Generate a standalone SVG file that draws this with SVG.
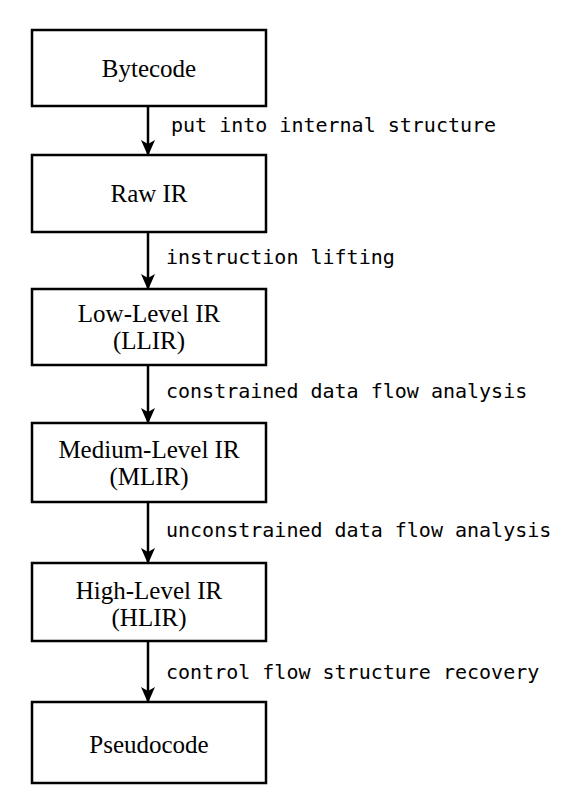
<svg xmlns="http://www.w3.org/2000/svg" width="585" height="807" viewBox="0 0 585 807">
<style>
.box{fill:#fff;stroke:#000;stroke-width:2.5}
.nt{font-family:"Liberation Serif","DejaVu Serif",serif;font-size:25px;text-anchor:middle;fill:#000}
.lt{font-family:"DejaVu Sans Mono","Liberation Mono",monospace;font-size:20px;fill:#000}
.ln{stroke:#000;stroke-width:2.5;fill:none}
</style>
<defs>
<marker id="ah" viewBox="0 0 16 14" refX="15" refY="7" markerWidth="16" markerHeight="14" markerUnits="userSpaceOnUse" orient="auto">
<path d="M0,0 L16,7 L0,14 L4,7 Z" fill="#000"/>
</marker>
</defs>
<g id="connectors">
<line class="ln" x1="148" y1="106" x2="148" y2="155" marker-end="url(#ah)"/>
<text class="lt" x="171" y="132">put into internal structure</text>
<line class="ln" x1="148" y1="232" x2="148" y2="289" marker-end="url(#ah)"/>
<text class="lt" x="166" y="264">instruction lifting</text>
<line class="ln" x1="148" y1="365" x2="148" y2="423" marker-end="url(#ah)"/>
<text class="lt" x="166" y="398">constrained data flow analysis</text>
<line class="ln" x1="148" y1="502" x2="148" y2="563" marker-end="url(#ah)"/>
<text class="lt" x="166" y="537">unconstrained data flow analysis</text>
<line class="ln" x1="148" y1="641" x2="148" y2="702" marker-end="url(#ah)"/>
<text class="lt" x="166" y="679">control flow structure recovery</text>
</g>
<g id="bytecode">
<rect class="box" x="32" y="30" width="234" height="76"/>
<text class="nt" x="149" y="77">Bytecode</text>
</g>
<g id="rawir">
<rect class="box" x="32" y="155" width="234" height="77"/>
<text class="nt" x="149" y="202">Raw IR</text>
</g>
<g id="llir">
<rect class="box" x="32" y="289" width="234" height="76"/>
<text class="nt" x="149" y="322">Low-Level IR</text>
<text class="nt" x="149" y="349">(LLIR)</text>
</g>
<g id="mlir">
<rect class="box" x="32" y="423" width="234" height="79"/>
<text class="nt" x="149" y="458">Medium-Level IR</text>
<text class="nt" x="149" y="485">(MLIR)</text>
</g>
<g id="hlir">
<rect class="box" x="32" y="563" width="234" height="78"/>
<text class="nt" x="149" y="599">High-Level IR</text>
<text class="nt" x="149" y="626">(HLIR)</text>
</g>
<g id="pseudocode">
<rect class="box" x="32" y="702" width="234" height="81"/>
<text class="nt" x="149" y="753">Pseudocode</text>
</g>
</svg>
